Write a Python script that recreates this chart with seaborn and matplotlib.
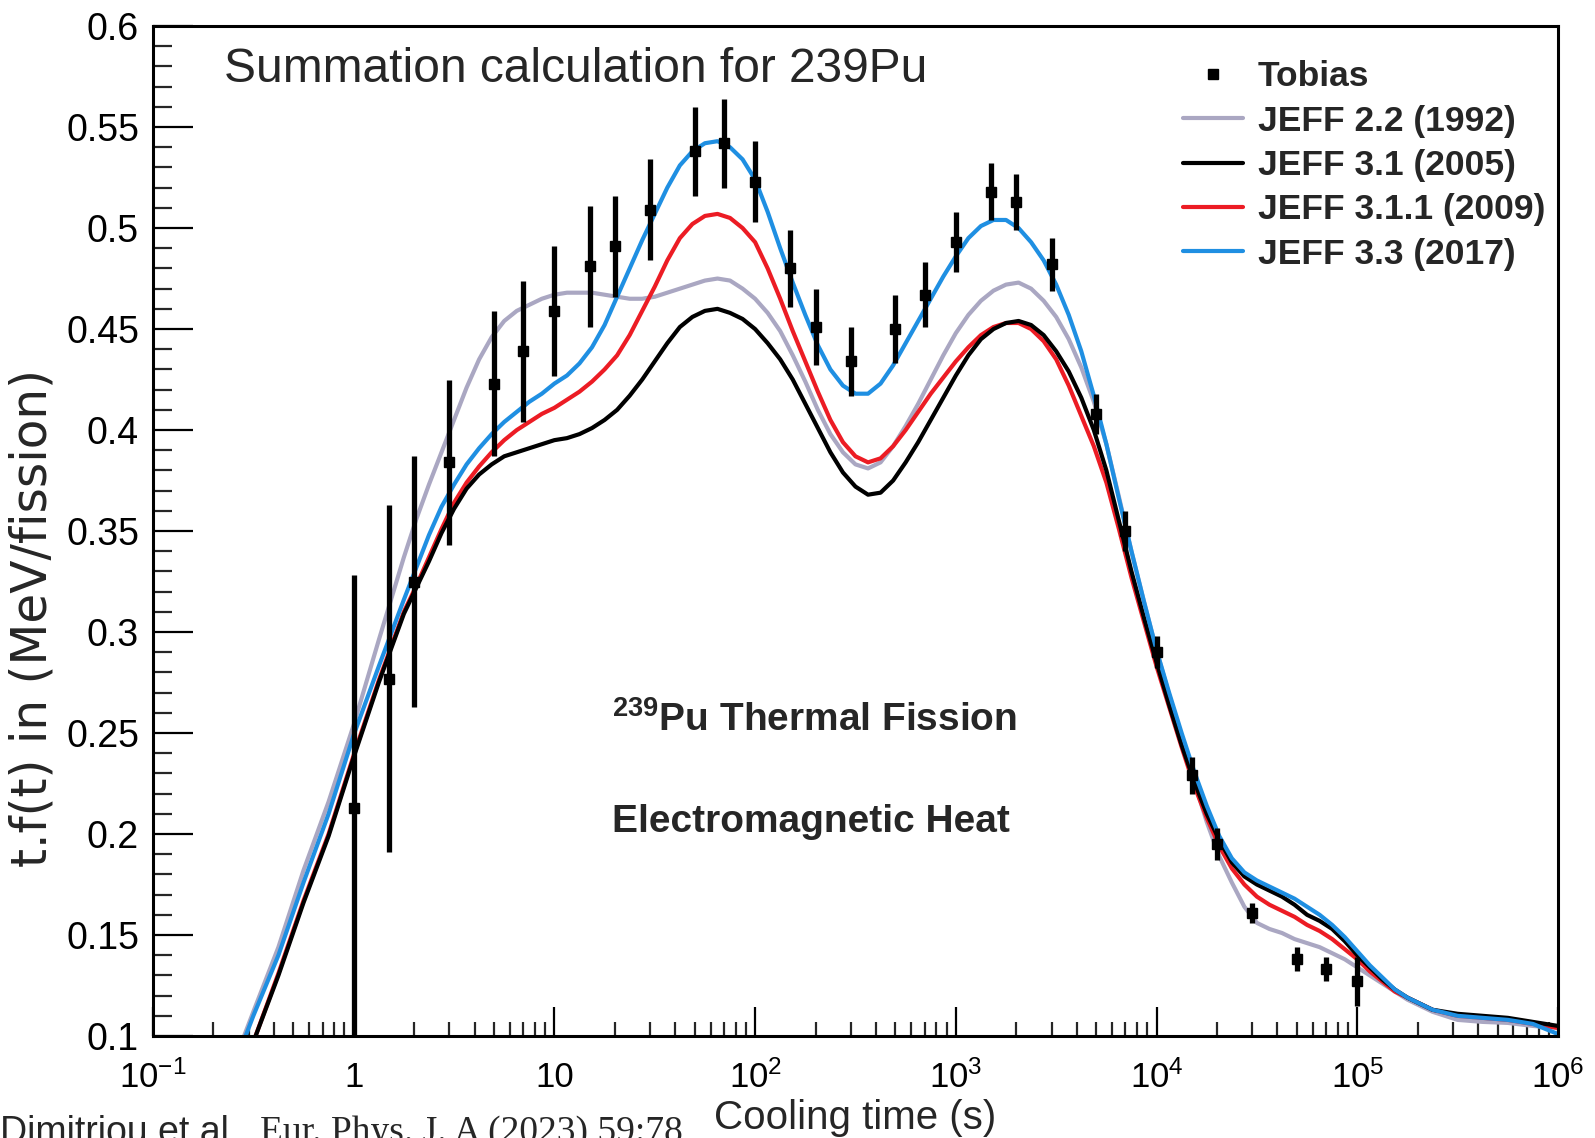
import numpy as np
import pandas as pd
import matplotlib
matplotlib.use("Agg")
import matplotlib.pyplot as plt
from matplotlib.lines import Line2D
from matplotlib.ticker import FixedLocator, FixedFormatter, NullFormatter
import seaborn as sns

# ==============================================================================
# DATA
# ==============================================================================
# log10 of cooling time (s) where the summation curves were sampled
curve_log_t = [-0.55, -0.5, -0.375, -0.25, -0.125, 0.0, 0.125,
               0.25, 0.3125, 0.375, 0.4375, 0.5, 0.5625, 0.625, 0.6875,
               0.75, 0.8125, 0.875, 0.9375, 1.0, 1.0625, 1.125, 1.1875,
               1.25, 1.3125, 1.375, 1.4375, 1.5, 1.5625, 1.625, 1.6875,
               1.75, 1.8125, 1.875, 1.9375, 2.0, 2.0625, 2.125, 2.1875,
               2.25, 2.3125, 2.375, 2.4375, 2.5, 2.5625, 2.625, 2.6875,
               2.75, 2.8125, 2.875, 2.9375, 3.0, 3.0625, 3.125, 3.1875,
               3.25, 3.3125, 3.375, 3.4375, 3.5, 3.5625, 3.625, 3.6875,
               3.75, 3.8125, 3.875, 3.9375, 4.0, 4.0625, 4.125, 4.1875,
               4.25, 4.3125, 4.375, 4.4375, 4.5, 4.5625, 4.625, 4.6875,
               4.75, 4.8125, 4.875, 4.9375, 5.0, 5.0625, 5.125, 5.1875,
               5.25, 5.375, 5.5, 5.625, 5.75, 5.875, 6.0]

jeff22 = [0.099, 0.112, 0.144, 0.182, 0.216, 0.254, 0.296,
          0.337, 0.356, 0.373, 0.389, 0.405, 0.421, 0.435, 0.446,
          0.454, 0.459, 0.462, 0.465, 0.467, 0.468, 0.468, 0.468,
          0.467, 0.466, 0.465, 0.465, 0.466, 0.468, 0.470, 0.472,
          0.474, 0.475, 0.474, 0.470, 0.465, 0.458, 0.449, 0.437,
          0.424, 0.410, 0.398, 0.389, 0.383, 0.381, 0.384, 0.392,
          0.402, 0.413, 0.425, 0.437, 0.448, 0.457, 0.464, 0.469,
          0.472, 0.473, 0.470, 0.464, 0.456, 0.445, 0.431, 0.414,
          0.393, 0.367, 0.340, 0.315, 0.291, 0.269, 0.248, 0.226,
          0.206, 0.189, 0.176, 0.164, 0.156, 0.153, 0.151, 0.148,
          0.146, 0.144, 0.141, 0.138, 0.134, 0.130, 0.126, 0.122,
          0.118, 0.112, 0.108, 0.107, 0.1065, 0.105, 0.104]

jeff31 = [0.088, 0.097, 0.130, 0.166, 0.199, 0.238, 0.275,
          0.309, 0.322, 0.335, 0.349, 0.361, 0.371, 0.378, 0.383,
          0.387, 0.389, 0.391, 0.393, 0.395, 0.396, 0.398, 0.401,
          0.405, 0.410, 0.417, 0.425, 0.434, 0.443, 0.451, 0.456,
          0.459, 0.460, 0.458, 0.455, 0.450, 0.443, 0.435, 0.425,
          0.413, 0.401, 0.389, 0.379, 0.372, 0.368, 0.369, 0.375,
          0.384, 0.394, 0.405, 0.416, 0.427, 0.437, 0.445, 0.450,
          0.453, 0.454, 0.452, 0.447, 0.439, 0.429, 0.416, 0.400,
          0.380, 0.355, 0.330, 0.307, 0.285, 0.264, 0.244, 0.226,
          0.210, 0.197, 0.186, 0.179, 0.175, 0.172, 0.169, 0.165,
          0.160, 0.157, 0.153, 0.147, 0.140, 0.134, 0.128, 0.123,
          0.119, 0.113, 0.111, 0.110, 0.109, 0.107, 0.105]

jeff311 = [0.088, 0.097, 0.131, 0.167, 0.200, 0.239, 0.276,
           0.310, 0.323, 0.337, 0.351, 0.364, 0.374, 0.382, 0.389,
           0.395, 0.400, 0.404, 0.408, 0.411, 0.415, 0.419, 0.424,
           0.430, 0.437, 0.447, 0.459, 0.471, 0.484, 0.495, 0.502,
           0.506, 0.507, 0.505, 0.500, 0.493, 0.480, 0.465, 0.449,
           0.434, 0.419, 0.405, 0.394, 0.387, 0.384, 0.386, 0.392,
           0.400, 0.409, 0.418, 0.426, 0.434, 0.441, 0.447, 0.451,
           0.453, 0.453, 0.450, 0.444, 0.435, 0.422, 0.407, 0.392,
           0.374, 0.351, 0.327, 0.305, 0.283, 0.263, 0.243, 0.224,
           0.208, 0.194, 0.183, 0.175, 0.169, 0.165, 0.162, 0.159,
           0.155, 0.152, 0.148, 0.143, 0.138, 0.132, 0.127, 0.122,
           0.119, 0.113, 0.110, 0.109, 0.108, 0.106, 0.104]

jeff33 = [0.097, 0.110, 0.140, 0.176, 0.210, 0.249, 0.283,
          0.316, 0.332, 0.348, 0.362, 0.373, 0.383, 0.391, 0.398,
          0.404, 0.409, 0.414, 0.418, 0.423, 0.427, 0.433, 0.441,
          0.452, 0.466, 0.480, 0.494, 0.507, 0.520, 0.531, 0.538,
          0.542, 0.543, 0.540, 0.534, 0.524, 0.508, 0.490, 0.473,
          0.457, 0.442, 0.430, 0.422, 0.418, 0.418, 0.423, 0.432,
          0.443, 0.454, 0.465, 0.476, 0.486, 0.495, 0.501, 0.504,
          0.504, 0.500, 0.493, 0.484, 0.472, 0.457, 0.439, 0.417,
          0.393, 0.366, 0.340, 0.315, 0.291, 0.270, 0.250, 0.231,
          0.214, 0.199, 0.188, 0.181, 0.177, 0.174, 0.171, 0.168,
          0.164, 0.160, 0.155, 0.149, 0.142, 0.135, 0.129, 0.123,
          0.119, 0.113, 0.110, 0.109, 0.108, 0.106, 0.101]

# Tobias measurements
tobias_t = [1, 1.5, 2, 3, 5, 7, 10, 15, 20, 30, 50, 70, 100, 150, 200, 300, 500,
            700, 1000, 1500, 2000, 3000, 5000, 7000, 1e4, 1.5e4, 2e4, 3e4, 5e4,
            7e4, 1e5]
tobias_val = [0.213, 0.277, 0.325, 0.384, 0.423, 0.439, 0.459, 0.481, 0.491, 0.509,
              0.538, 0.542, 0.523, 0.480, 0.451, 0.434, 0.450, 0.467, 0.493, 0.518,
              0.513, 0.482, 0.408, 0.350, 0.290, 0.229, 0.195, 0.161, 0.138, 0.133,
              0.127]
tobias_err = [0.115, 0.086, 0.062, 0.041, 0.036, 0.035, 0.032, 0.030, 0.025, 0.025,
              0.022, 0.022, 0.020, 0.019, 0.019, 0.017, 0.017, 0.016, 0.015, 0.014,
              0.014, 0.013, 0.010, 0.010, 0.008, 0.009, 0.008, 0.005, 0.006, 0.006,
              0.012]

library_names = ["JEFF 2.2 (1992)", "JEFF 3.1 (2005)", "JEFF 3.1.1 (2009)", "JEFF 3.3 (2017)"]
library_colors = ["#aaa7c2", "#000000", "#ec1c24", "#1f8fe2"]

x_tick_pos = [1e-1, 1, 10, 1e2, 1e3, 1e4, 1e5, 1e6]
x_tick_lab = [r"$10^{-1}$", "1", "10", r"$10^{2}$", r"$10^{3}$", r"$10^{4}$",
              r"$10^{5}$", r"$10^{6}$"]
y_tick_pos = [0.1, 0.15, 0.2, 0.25, 0.3, 0.35, 0.4, 0.45, 0.5, 0.55, 0.6]
y_tick_lab = ["0.1", "0.15", "0.2", "0.25", "0.3", "0.35", "0.4", "0.45", "0.5",
              "0.55", "0.6"]


# ==============================================================================
# STYLE
# ==============================================================================
def configure_style() -> None:
    sns.set_theme(style="white")
    plt.rcParams["font.family"] = ["Liberation Sans", "DejaVu Sans"]
    plt.rcParams["mathtext.default"] = "regular"
    plt.rcParams["axes.linewidth"] = 2.2


def build_curves_frame() -> pd.DataFrame:
    t = np.power(10.0, np.array(curve_log_t))
    frames = []
    for name, values in zip(library_names, [jeff22, jeff31, jeff311, jeff33]):
        frames.append(pd.DataFrame({"time": t, "value": values, "library": name}))
    return pd.concat(frames, ignore_index=True)


# ==============================================================================
# PLOT
# ==============================================================================
def plot_chart() -> None:
    configure_style()
    fig = plt.figure(figsize=(15.95, 11.38), dpi=100)
    ax = fig.add_axes([0.0959, 0.0896, 0.8809, 0.8875])

    df = build_curves_frame()
    palette = dict(zip(library_names, library_colors))
    draw_order = ["JEFF 2.2 (1992)", "JEFF 3.1.1 (2009)", "JEFF 3.1 (2005)", "JEFF 3.3 (2017)"]
    sns.lineplot(data=df, x="time", y="value", hue="library", hue_order=draw_order,
                 palette=palette, linewidth=3.0, legend=False, ax=ax, zorder=2)

    ax.errorbar(tobias_t, tobias_val, yerr=tobias_err, fmt="s", color="black",
                markersize=7.5, elinewidth=3.8, capsize=0, zorder=4)

    ax.set_xscale("log")
    ax.set_xlim(1e-1, 1e6)
    ax.set_ylim(0.1, 0.6)

    ax.xaxis.set_major_locator(FixedLocator(x_tick_pos))
    ax.xaxis.set_major_formatter(FixedFormatter(x_tick_lab))
    minor = [m * 10.0 ** d for d in range(-1, 6) for m in range(2, 10)]
    ax.xaxis.set_minor_locator(FixedLocator(minor))
    ax.xaxis.set_minor_formatter(NullFormatter())
    ax.yaxis.set_major_locator(FixedLocator(y_tick_pos))
    ax.yaxis.set_major_formatter(FixedFormatter(y_tick_lab))
    ax.yaxis.set_minor_locator(FixedLocator(np.arange(0.1, 0.6, 0.01)))

    ax.tick_params(axis="x", which="major", direction="in", length=21, width=1.6,
                   labelsize=25, pad=37, top=False, bottom=True, colors="black")
    ax.tick_params(axis="x", which="minor", direction="in", length=10, width=1.6,
                   top=False, bottom=True)
    ax.tick_params(axis="y", which="major", direction="in", length=29, width=1.6,
                   labelsize=27, pad=10, left=True, right=False, colors="black")
    ax.tick_params(axis="y", which="minor", direction="in", length=14, width=1.6,
                   left=True, right=False)
    for lab in ax.get_xticklabels():
        lab.set_verticalalignment("baseline")
    for spine in ax.spines.values():
        spine.set_color("black")
        spine.set_linewidth(2.2)

    ax.set_xlabel("Cooling time (s)", fontsize=29)
    ax.xaxis.set_label_coords(0.5, -0.081, transform=ax.transAxes)
    ax.xaxis.label.set_verticalalignment("center")
    ax.set_ylabel("t.f(t) in (MeV/fission)", fontsize=35, family=["DejaVu Sans"])
    ax.yaxis.set_label_coords(-0.0854, 0.414, transform=ax.transAxes)
    ax.yaxis.label.set_verticalalignment("center")

    # text blocks
    ax.text(0.0505, 0.957, "Summation calculation for 239Pu", transform=ax.transAxes,
            fontsize=34.5, ha="left", va="center")
    ax.text(0.327, 0.313, r"$^{239}$Pu Thermal Fission", transform=ax.transAxes,
            fontsize=28, fontweight="bold", ha="left", va="center")
    ax.text(0.327, 0.212, "Electromagnetic Heat", transform=ax.transAxes,
            fontsize=28, fontweight="bold", ha="left", va="center")

    handles = [Line2D([], [], marker="s", color="black", linestyle="none", markersize=7)]
    for name, color in zip(library_names, library_colors):
        handles.append(Line2D([], [], color=color, linewidth=3.0))
    labels = ["Tobias"] + library_names
    ax.legend(handles, labels, loc="upper left", bbox_to_anchor=(0.733, 0.966),
              frameon=False, borderpad=0, borderaxespad=0, handlelength=1.7,
              handletextpad=0.42, labelspacing=0.32,
              prop={"size": 25.5, "weight": "bold"})

    # reference line at the foot of the slide (cut by the lower edge)
    cite_a = fig.text(0.0, 0.020, "Dimitriou et al., ", fontsize=27, ha="left", va="top")
    fig.canvas.draw()
    box = cite_a.get_window_extent()
    fig.text(box.x1 / fig.bbox.width, 0.020, "Eur. Phys. J. A (2023) 59:78", fontsize=27,
             ha="left", va="top", family=["Liberation Serif", "DejaVu Serif"])

    fig.savefig("out.png", dpi=100)


if __name__ == "__main__":
    plot_chart()
